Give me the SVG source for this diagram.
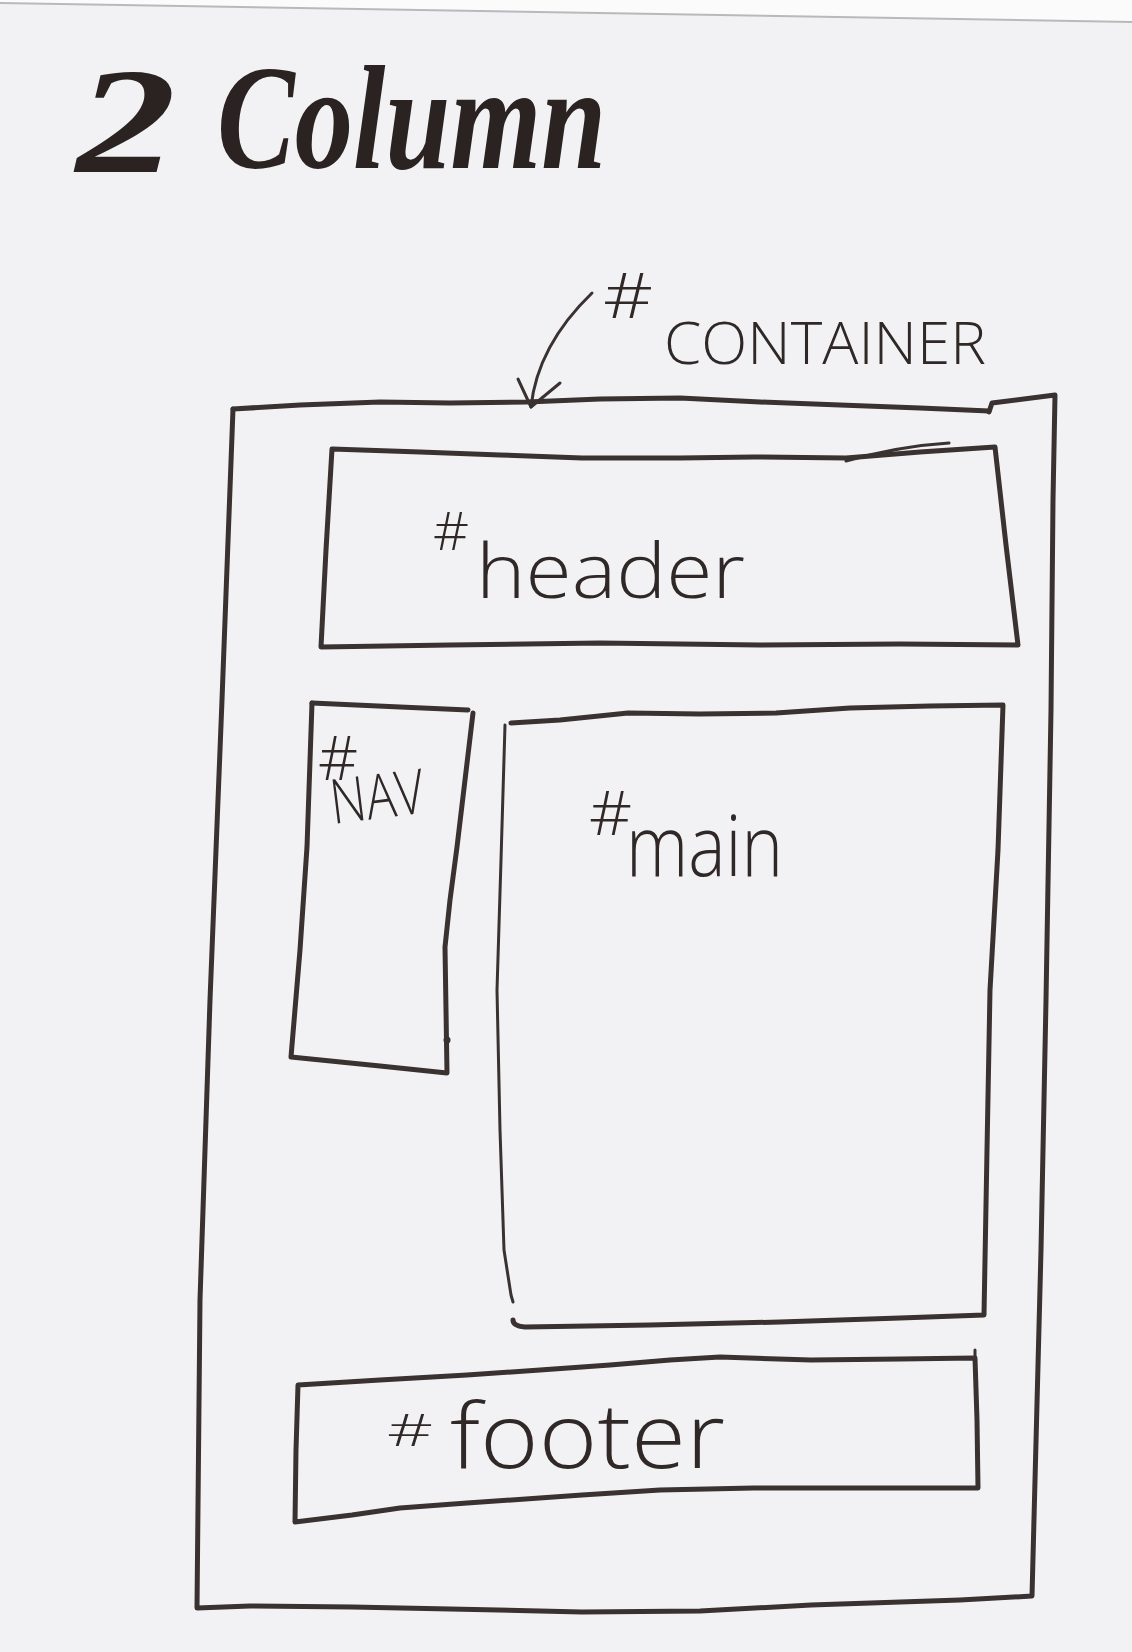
<svg xmlns="http://www.w3.org/2000/svg" width="1132" height="1652" viewBox="0 0 1132 1652">
  <style>
    .ink { fill: none; stroke: #3a3230; stroke-width: 5; stroke-linecap: round; stroke-linejoin: round; }
    .thin { fill: none; stroke: #3a3230; stroke-width: 3; stroke-linecap: round; stroke-linejoin: round; }
    .hand { font-family: "Open Sans", "DejaVu Sans", sans-serif; font-weight: 300; fill: #2f2826; }
    .title { font-family: "Liberation Serif", "DejaVu Serif", serif; font-style: italic; font-weight: bold; fill: #2a2321; }
  </style>

  <!-- paper -->
  <rect x="0" y="0" width="1132" height="1652" fill="#f2f2f4"/>
  <path d="M0,0 L1132,0 L1132,22 L0,3 Z" fill="#fbfbfb"/>
  <path d="M0,3 L1132,22" fill="none" stroke="#b9b9bc" stroke-width="2"/>

  <!-- heading -->
  <g id="title">
    <text class="title" x="76" y="172" font-size="150" textLength="100" lengthAdjust="spacingAndGlyphs">2</text>
    <text class="title" x="217" y="168" font-size="148" textLength="389" lengthAdjust="spacingAndGlyphs">Column</text>
  </g>

  <!-- outer wrapper box -->
  <g id="container">
    <path class="ink" d="M233,409 L300,405 L380,402 L450,403 L527,402 L600,399 L680,398 L760,402 L840,405 L920,408 L989,411"/>
    <path class="ink" d="M989,412 L992,403 L1055,395 L1053,500 L1051,710 L1046,1000 L1041,1250 L1032,1596 L960,1600 L811,1605 L700,1611 L582,1612 L450,1609 L352,1607 L250,1606 L197,1608 L200,1300 L210,1000 L222,700 L233,409"/>
    <text class="hand" x="603" y="318" font-size="62" textLength="50" lengthAdjust="spacingAndGlyphs">#</text>
    <text class="hand" x="664" y="364" font-size="58" textLength="322" lengthAdjust="spacingAndGlyphs">CONTAINER</text>
  </g>

  <g id="header">
    <path class="ink" d="M332,449 L420,452 L500,455 L582,458 L680,458 L754,457 L846,458 L920,452 L995,447 L1006,545 L1018,645 L900,644 L760,645 L600,643 L450,645 L321,647 L326,550 Z"/>
    <path class="thin" d="M846,461 Q900,446 949,443"/>
    <text class="hand" x="433" y="550" font-size="54" textLength="36" lengthAdjust="spacingAndGlyphs">#</text>
    <text class="hand" x="476" y="598" font-size="76" textLength="269" lengthAdjust="spacingAndGlyphs">header</text>
  </g>

  <g id="nav">
    <path class="ink" d="M312,703 L400,707 L468,710"/>
    <path class="ink" d="M473,713 L465,780 L457,847 L450,900 L445,947 L446,1010 L447,1073 L380,1066 L291,1057 L300,950 L307,847 L312,703"/>
    <circle cx="447" cy="1040" r="3.5" fill="#3a3230"/>
    <text class="hand" x="318" y="780" font-size="60" textLength="40" lengthAdjust="spacingAndGlyphs">#</text>
    <text class="hand" x="333" y="824" font-size="62" textLength="94" lengthAdjust="spacingAndGlyphs" transform="rotate(-7 333 824)">NAV</text>
  </g>

  <g id="main">
    <path class="ink" d="M511,723 L560,720 L628,713 L700,714 L776,713 L850,708 L930,706 L1003,705 L998,850 L990,990 L987,1150 L984,1315 L900,1318 L780,1322 L650,1325 L525,1327 Q513,1326 513,1320"/>
    <path class="thin" d="M505,725 L501,860 L497,990 L500,1130 L504,1250 L511,1295 L513,1302"/>
    <text class="hand" x="589" y="835" font-size="60" textLength="43" lengthAdjust="spacingAndGlyphs">#</text>
    <text class="hand" x="626" y="876" font-size="84" textLength="157" lengthAdjust="spacingAndGlyphs">main</text>
  </g>

  <g id="footer">
    <path class="ink" d="M298,1385 L380,1380 L467,1375 L540,1370 L610,1365 L670,1360 L720,1357 L811,1360 L900,1359 L975,1358 L977,1420 L978,1488 L880,1488 L754,1488 L660,1490 L582,1495 L467,1503 L400,1508 L352,1515 L295,1522 L296,1450 Z"/>
    <path class="thin" d="M975,1350 L975,1360"/>
    <text class="hand" x="387" y="1446" font-size="44" textLength="46" lengthAdjust="spacingAndGlyphs">#</text>
    <text class="hand" x="450" y="1468" font-size="90" textLength="275" lengthAdjust="spacingAndGlyphs">footer</text>
  </g>

  <!-- pointer from the wrapper label down to the top edge -->
  <g id="connectors">
    <path class="thin" d="M592,293 C562,322 536,360 531,407"/>
    <path class="thin" d="M518,379 L531,407 L560,383"/>
  </g>
</svg>
